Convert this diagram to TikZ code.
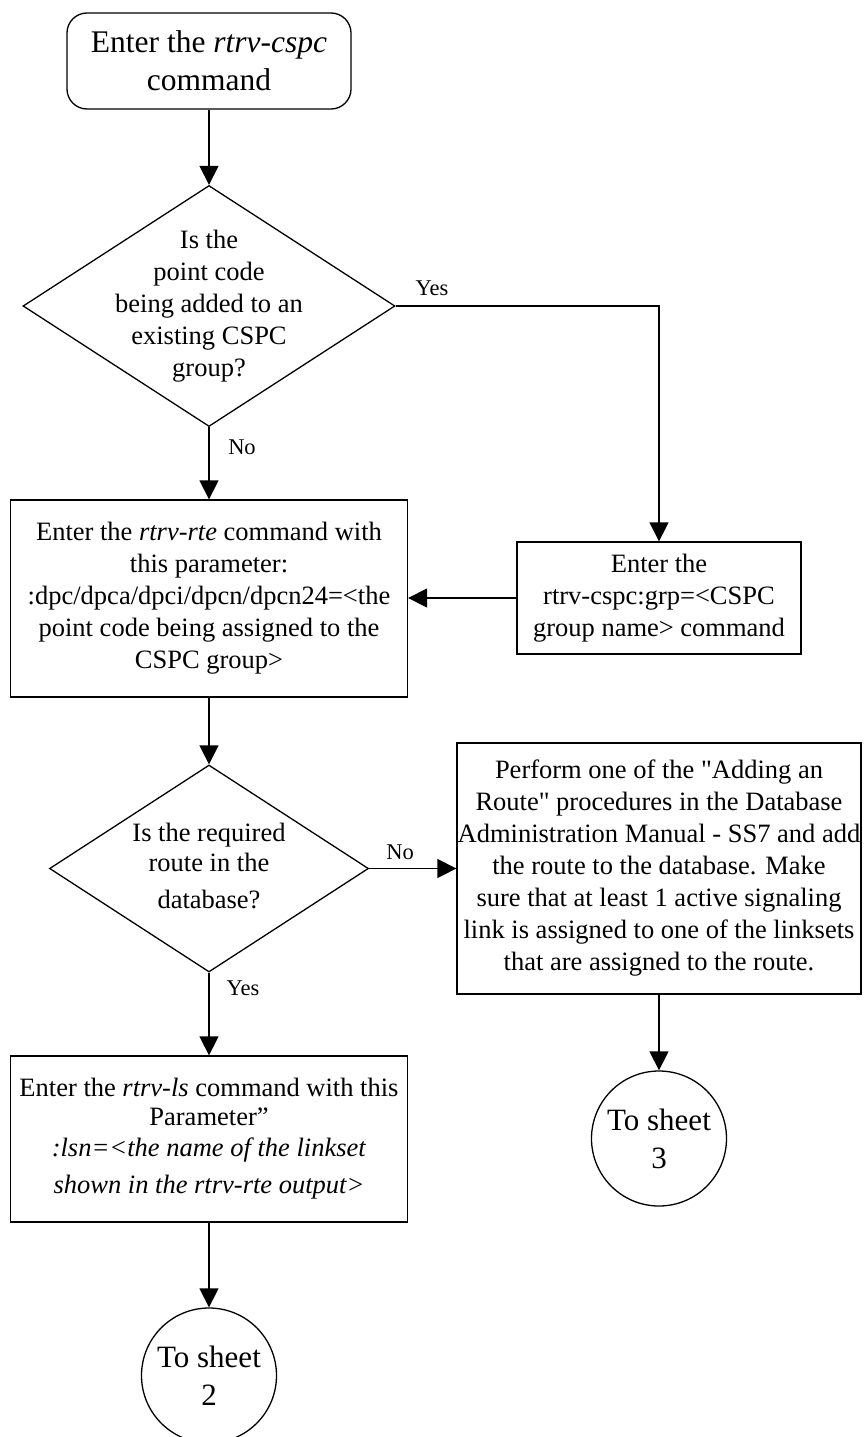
\documentclass[tikz,border=0pt]{standalone}
\usepackage{fontspec}
\setmainfont{Liberation Serif}
\usetikzlibrary{shapes.geometric,arrows.meta}
\begin{document}
\begin{tikzpicture}[x=1pt,y=-1pt,
  line width=1.3pt,
  arr/.style={-{Triangle[length=19pt,width=19pt]}, line width=1.3pt},
  box/.style={draw, rectangle, inner sep=0pt, align=center, font=\fontsize{26.5}{32}\selectfont},
  startbox/.style={draw, rectangle, rounded corners=20pt, inner sep=0pt, align=center, font=\fontsize{31.5}{38}\selectfont},
  dia/.style={draw, diamond, inner sep=0pt},
  txt/.style={align=center, inner sep=0pt, font=\fontsize{26.5}{32}\selectfont},
  circ/.style={draw, circle, minimum size=135pt, inner sep=0pt, align=center, font=\fontsize{31}{38}\selectfont},
  lbl/.style={inner sep=0pt, font=\fontsize{22.5}{26}\selectfont}]
\useasboundingbox (0,0) rectangle (863,1437);

\node[startbox, minimum width=284pt, minimum height=96pt] (s) at (209,61) {Enter the \textit{rtrv-cspc}\\command};

\node[dia, minimum width=372pt, minimum height=241pt] (d1) at (209,306) {};
\node[txt] (d1t) at (209,306) {Is the\\point code\\being added to an\\existing CSPC\\group?};

\node[box, minimum width=397pt, minimum height=197pt] (b1) at (209,598.5) {Enter the \textit{rtrv-rte} command with\\this parameter:\\:dpc/dpca/dpci/dpcn/dpcn24=<the\\point code being assigned to the\\CSPC group>};

\node[box, minimum width=284pt, minimum height=112pt] (b2) at (659,598) {Enter the\\rtrv-cspc:grp=<CSPC\\group name> command};

\node[dia, minimum width=319pt, minimum height=207pt] (d2) at (209,868.5) {};
\node[txt] (d2t) at (209,866) {Is the required\\[-2pt]route in the\\[5pt]database?};

\node[box, minimum width=404pt, minimum height=251pt] (b3) at (659,868.5) {Perform one of the \textquotedbl Adding an\\Route\textquotedbl{} procedures in the Database\\Administration Manual - SS7 and add\\the route to the database. Make\\sure that at least 1 active signaling\\link is assigned to one of the linksets\\that are assigned to the route.};

\node[box, minimum width=397pt, minimum height=166pt] (b4) at (209,1139) {Enter the \textit{rtrv-ls} command with this\\[-3pt]Parameter”\\[-1pt]\textit{:lsn=<the name of the linkset}\\[5pt]\textit{shown in the rtrv-rte output>}};

\node[circ] (c2) at (209,1375.5) {To sheet\\2};
\node[circ] (c3) at (659,1138.5) {To sheet\\3};

\node[lbl] (lyes1) at (432,288) {Yes};
\node[lbl] (lno1) at (242,447) {No};
\node[lbl] (lno2) at (400,852) {No};
\node[lbl] (lyes2) at (243,988) {Yes};

\draw[arr] (s) -- (d1);
\draw[arr] (d1.south) -- (b1.north);
\draw[arr] (d1.east) -| (b2.north);
\draw[arr] (b2.west) -- (b2.west -| b1.east);
\draw[arr] (b1.south) -- (d2.north);
\draw[arr] (d2.east) -- (d2.east -| b3.west);
\draw[arr] (d2.south) -- (b4.north);
\draw[arr] (b4.south) -- (c2.north);
\draw[arr] (b3.south) -- (c3.north);
\end{tikzpicture}
\end{document}
